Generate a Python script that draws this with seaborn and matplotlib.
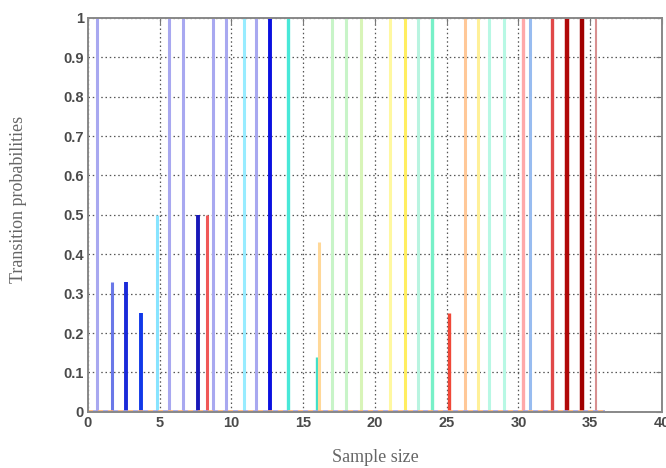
import numpy as np
import pandas as pd
import seaborn as sns
import matplotlib.pyplot as plt

sns.set_style("white")

# bar positions / heights
positions = [0.61, 1.69, 2.66, 3.71, 4.82, 5.63, 6.61, 7.65, 8.28, 8.70,
             9.63, 10.86, 11.72, 12.70, 13.92, 15.97, 16.13, 17.02, 17.99, 19.04,
             21.08, 22.10, 22.98, 23.96, 25.19, 26.24, 27.16, 27.98, 28.98, 30.30,
             30.81, 32.35, 33.37, 34.41, 35.37]
heights = [1, 0.33, 0.33, 0.25, 0.5, 1, 1, 0.5, 0.5, 1,
           1, 1, 1, 1, 1, 0.14, 0.43, 1, 1, 1,
           1, 1, 1, 1, 0.25, 1, 1, 1, 1, 1,
           1, 1, 1, 1, 1]
colors = ["#a8a8f0", "#6a78e8", "#1a2ad8", "#1038e8", "#88e4ff", "#a8a8f0", "#a8a8f0", "#1818b8", "#f05858", "#a8a8f0",
          "#a8a8f0", "#98ecff", "#a8a8f0", "#0a10e0", "#48e8d8", "#40e0c8", "#ffd898", "#c8f4c8", "#c8f4c8", "#d8f4b8",
          "#fff8a0", "#ffee60", "#b8f4e0", "#78f0c8", "#f04838", "#ffc898", "#fff098", "#b8f8e4", "#b8f8e4", "#ffa8a8",
          "#98bcf0", "#e04848", "#b00808", "#a00000", "#d89090"]
widths = [2.2, 2.2, 2.8, 2.8, 2.2, 2.2, 2.2, 2.8, 2.2, 2.2,
          2.2, 2.2, 2.2, 2.8, 2.4, 2.4, 2.2, 2.2, 2.2, 2.2,
          2.2, 2.2, 2.2, 2.4, 2.4, 2.2, 2.2, 2.2, 2.2, 2.4,
          2.2, 2.4, 3.2, 3.2, 1.5]

xticks = [0, 5, 10, 15, 20, 25, 30, 35, 40]
yticks = [0, 0.1, 0.2, 0.3, 0.4, 0.5, 0.6, 0.7, 0.8, 0.9, 1]
ytick_labels = ["0", "0.1", "0.2", "0.3", "0.4", "0.5", "0.6", "0.7", "0.8", "0.9", "1"]

df = pd.DataFrame({"x": positions, "p": heights, "c": colors, "w": widths})

fig = plt.figure(figsize=(6.66, 4.68), dpi=100)
ax = fig.add_axes([0.132, 0.12, 0.862, 0.842])

ax.grid(True, linestyle=(0, (1.2, 2.2)), color="#555555", linewidth=0.9)
ax.set_axisbelow(True)

ax.vlines(df["x"], 0, df["p"], colors=df["c"], linewidths=df["w"])

# zero-height bars leave a dashed coloured trace at the bottom
ax.plot([0, 36], [0.003, 0.003], linestyle=(0, (3, 3)), color="#ffb070",
        gapcolor="#a0a0e8", linewidth=1.2)

ax.set_xlim(0, 40)
ax.set_ylim(0, 1)
ax.set_xticks(xticks)
ax.set_yticks(yticks)
ax.set_yticklabels(ytick_labels)
ax.tick_params(direction="in", length=4, colors="#777777", labelcolor="#4a4a4a",
               labelsize=10.5, top=True, right=True, pad=3)
for lab in ax.get_xticklabels() + ax.get_yticklabels():
    lab.set_family("Liberation Sans")
    lab.set_fontweight("bold")
for s in ax.spines.values():
    s.set_color("#888888")
    s.set_linewidth(1.4)

ax.set_xlabel("Sample size", family="Liberation Serif", fontsize=13, color="#666666", labelpad=14)
ax.set_ylabel("Transition probabilities", family="Liberation Serif", fontsize=13, color="#666666")
ax.yaxis.set_label_coords(-0.106, 0.54)

fig.savefig("out.png", dpi=100)
